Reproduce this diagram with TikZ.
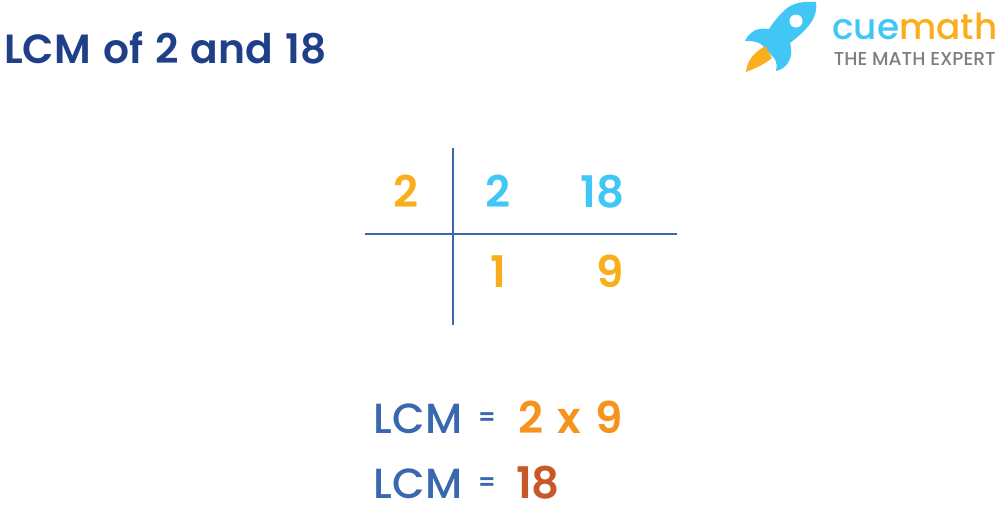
\documentclass[tikz,border=0pt]{standalone}
\usepackage{fontspec}
\setmainfont{Poppins Medium}
\newfontfamily\semifont{Poppins SemiBold}
\newfontfamily\titlefont[WordSpace=1.25]{Poppins SemiBold}
\usepackage{tikz}

\definecolor{titleBlue}{HTML}{1F4089}
\definecolor{lineBlue}{HTML}{3A68AF}
\definecolor{cueBlue}{HTML}{42C6F6}
\definecolor{cueYellow}{HTML}{FBAE1B}
\definecolor{prodOrange}{HTML}{F6921E}
\definecolor{lcmRed}{HTML}{C75827}
\definecolor{cueGray}{HTML}{7B7F82}

\tikzset{
	num/.style={anchor=base, inner sep=0pt, font=\semifont\fontsize{31}{31}\selectfont},
	lcmText/.style={anchor=base, inner sep=0pt, text=lineBlue, font=\fontsize{30}{30}\selectfont},
	eqSign/.style={anchor=base, inner sep=0pt, text=lineBlue, font=\semifont\fontsize{17}{17}\selectfont},
	rule/.style={draw=lineBlue, line width=0.05cm}
}

\begin{document}
\begin{tikzpicture}[x=0.025cm,y=-0.025cm]
	
	\useasboundingbox (0,0) rectangle (996,507);
	
	\node[anchor=base west, inner sep=0pt, text=titleBlue, font=\titlefont\fontsize{29}{30}\selectfont]
	(title) at (4,63) {LCM of 2 and 18};
	
	% Logo
	
	\fill[cueBlue] (816,2) .. controls (803,1) and (793,3) .. (786,9)
	.. controls (778,16) and (773,23) .. (769,29)
	.. controls (762,28) and (755,29) .. (751,33)
	.. controls (748,36) and (746,38) .. (745,41)
	.. controls (750,41) and (756,41) .. (761,44)
	-- (774,58)
	.. controls (777,62) and (777,66) .. (776,71)
	.. controls (781,70) and (785,67) .. (788,63)
	.. controls (792,57) and (792,49) .. (790,43)
	.. controls (798,37) and (807,29) .. (812,21)
	.. controls (816,14) and (817,8) .. (816,2) -- cycle;
	\fill[white] (796,21) circle (6.5);
	\fill[cueYellow] (765,46) -- (772,58)
	.. controls (765,64) and (756,68) .. (746,72)
	.. controls (747,62) and (752,54) .. (765,46) -- cycle;
	
	\node[anchor=base west, inner sep=0pt, font=\fontsize{25.5}{26}\selectfont]
	(cuemath) at (832,39) {\textcolor{cueBlue}{cue}\textcolor{cueYellow}{math}};
	
	\node[anchor=base west, inner sep=0pt, text=cueGray, font=\fontsize{13.3}{14}\selectfont]
	(tagline) at (833.5,65.5) {THE MATH EXPERT};
	
	% Division table
	
	\coordinate (ruleTop) at (452.5,148);
	\coordinate (ruleBottom) at (452.5,325);
	\coordinate (ruleLeft) at (365,234);
	\coordinate (ruleRight) at (677,234);
	
	\draw[rule] (ruleTop) -- (ruleBottom);
	\draw[rule] (ruleLeft) -- (ruleRight);
	
	\node[num, text=cueYellow] (divisor) at (406,207) {2};
	\node[num, text=cueBlue] (num1) at (498,207) {2};
	\node[num, text=cueBlue] (num2) at (602.5,207) {18};
	\node[num, text=cueYellow] (res1) at (498,287) {1};
	\node[num, text=cueYellow] (res2) at (610,287) {9};
	
	% Result
	
	\node[lcmText] (lcm1) at (418,433) {LCM};
	\node[eqSign] (eq1) at (487,425) {=};
	\node[num, text=prodOrange] (two) at (531,433) {2};
	\node[num, text=prodOrange] (times) at (569,433) {x};
	\node[num, text=prodOrange] (nine) at (609,433) {9};
	
	\node[lcmText] (lcm2) at (418,498) {LCM};
	\node[eqSign] (eq2) at (487,490) {=};
	\node[num, text=lcmRed] (answer) at (538,498) {18};
	
\end{tikzpicture}
\end{document}
